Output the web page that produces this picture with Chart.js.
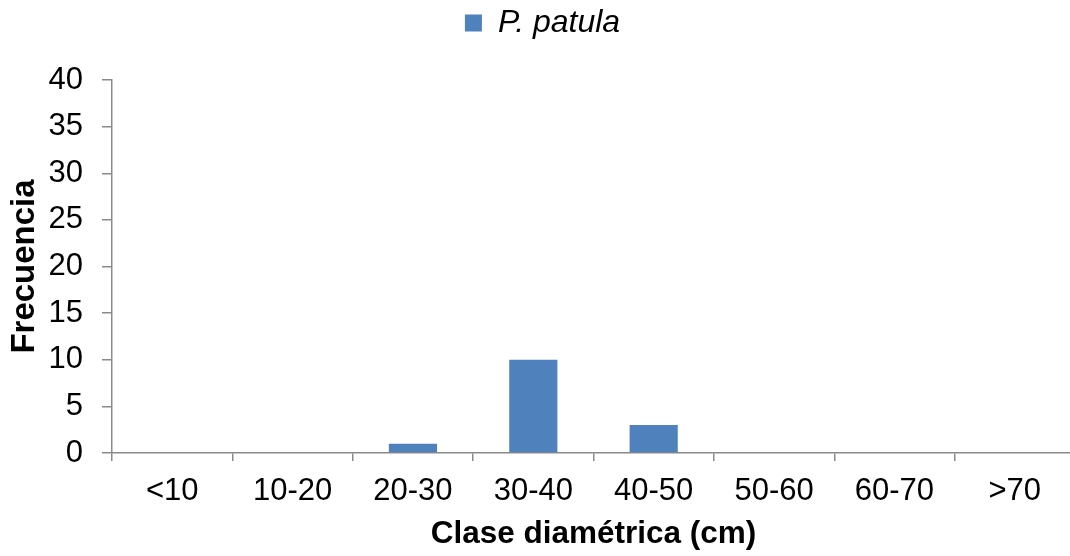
<!DOCTYPE html>
<html>
<head>
<meta charset="utf-8">
<script src="https://cdn.jsdelivr.net/npm/chart.js@4"></script>
<style>
    html, body { margin: 0; padding: 0; background: #fff; overflow: hidden; }
    #wrap { width: 1086px; height: 556px; }
</style>
</head>
<body>
<div id="wrap"><canvas id="freqChart" width="1086" height="556"></canvas></div>
<script>
const CLASES = ["<10", "10-20", "20-30", "30-40", "40-50", "50-60", "60-70", ">70"];
const FRECUENCIA = [0, 0, 1, 10, 3, 0, 0, 0];
const SERIE = "P. patula";
const Y_MIN = 0;
const Y_MAX = 40;
const Y_STEP = 5;

const AXIS_GRAY = "#8a8a8a";
const FONT = "'Liberation Sans', Arial, sans-serif";

// fix the legend box height so the plot top sits where the reference has it
const legendHeight = {
    id: "legendHeight",
    beforeInit(chart) {
        const fit = chart.legend.fit;
        chart.legend.fit = function () {
            fit.bind(chart.legend)();
            this.height = 80;
        };
    }
};

const ctx = document.getElementById("freqChart").getContext("2d");

const freqChart = new Chart(ctx, {
    type: "bar",
    data: {
        labels: CLASES,
        datasets: [{
            label: SERIE,
            data: FRECUENCIA,
            backgroundColor: "#4f81bd",
            borderWidth: 0,
            barPercentage: 0.4,
            categoryPercentage: 1.0
        }]
    },
    options: {
        responsive: false,
        animation: false,
        layout: { padding: { left: 10, right: 11, top: 0, bottom: 0 } },
        plugins: {
            legend: {
                position: "top",
                labels: {
                    boxWidth: 17,
                    boxHeight: 17,
                    padding: 7,
                    color: "#000",
                    font: { family: FONT, size: 32, style: "italic" }
                }
            },
            tooltip: { enabled: false }
        },
        scales: {
            x: {
                grid: {
                    display: true,
                    drawOnChartArea: false,
                    drawTicks: true,
                    tickLength: 8,
                    color: AXIS_GRAY,
                    lineWidth: 1.5
                },
                border: { color: AXIS_GRAY, width: 1.5 },
                ticks: {
                    color: "#000",
                    padding: 12,
                    maxRotation: 0,
                    font: { family: FONT, size: 31 }
                },
                title: {
                    display: true,
                    text: "Clase diamétrica (cm)",
                    color: "#000",
                    padding: { top: 0, bottom: 3 },
                    font: { family: FONT, size: 31.5, weight: "bold" }
                },
                afterFit(scale) { scale.height = 103; }
            },
            y: {
                min: Y_MIN,
                max: Y_MAX,
                grid: {
                    display: true,
                    drawOnChartArea: false,
                    drawTicks: true,
                    tickLength: 10,
                    color: AXIS_GRAY,
                    lineWidth: 1.5
                },
                border: { color: AXIS_GRAY, width: 1.5 },
                ticks: {
                    stepSize: Y_STEP,
                    color: "#000",
                    padding: 19,
                    font: { family: FONT, size: 31 }
                },
                title: {
                    display: true,
                    text: "Frecuencia",
                    color: "#000",
                    padding: { top: -5, bottom: 0 },
                    font: { family: FONT, size: 33, weight: "bold" }
                },
                afterFit(scale) { scale.width = 102; }
            }
        }
    },
    plugins: [legendHeight]
});
</script>
</body>
</html>
